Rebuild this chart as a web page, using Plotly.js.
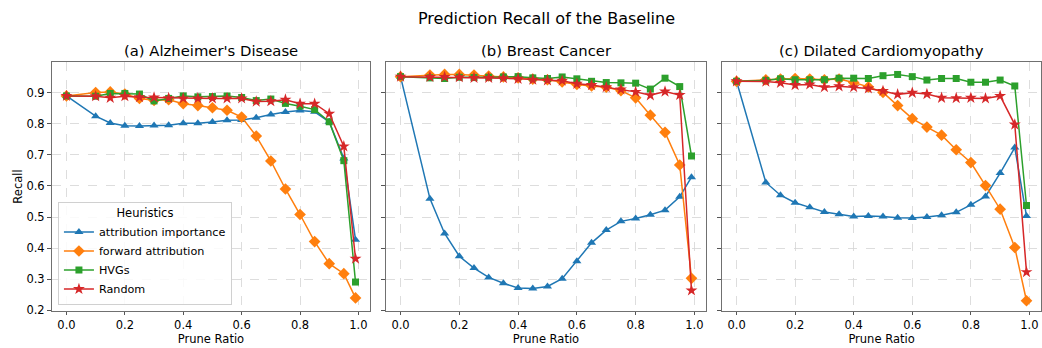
<!DOCTYPE html>
<html>
<head>
<meta charset="utf-8">
<script src="https://cdn.plot.ly/plotly-3.0.1.min.js"></script>
<style>html,body{margin:0;padding:0;background:#fff}#chart{width:1042px;height:348px}</style>
</head>
<body>
<div id="chart"></div>
<script>
const pruneRatio = [0, 0.1, 0.15, 0.2, 0.25, 0.3, 0.35, 0.4, 0.45, 0.5, 0.55, 0.6, 0.65, 0.7, 0.75, 0.8, 0.85, 0.9, 0.95, 0.99];
const seriesNames = ["attribution importance", "forward attribution", "HVGs", "Random"];
const panelTitles = ["(a) Alzheimer's Disease", "(b) Breast Cancer", "(c) Dilated Cardiomyopathy"];

// (a) Alzheimer's Disease
const adAttribution = [0.889, 0.824, 0.802, 0.793, 0.792, 0.794, 0.795, 0.801, 0.801, 0.805, 0.811, 0.812, 0.819, 0.829, 0.837, 0.842, 0.838, 0.806, 0.688, 0.427];
const adForward = [0.889, 0.900, 0.902, 0.895, 0.881, 0.875, 0.877, 0.864, 0.858, 0.851, 0.843, 0.821, 0.760, 0.680, 0.590, 0.508, 0.421, 0.350, 0.318, 0.240];
const adHVGs = [0.889, 0.888, 0.897, 0.897, 0.895, 0.873, 0.881, 0.889, 0.886, 0.887, 0.889, 0.884, 0.874, 0.879, 0.865, 0.856, 0.845, 0.806, 0.681, 0.291];
const adRandom = [0.889, 0.888, 0.883, 0.888, 0.885, 0.884, 0.882, 0.881, 0.881, 0.881, 0.881, 0.881, 0.871, 0.872, 0.877, 0.864, 0.864, 0.832, 0.727, 0.366];

// (b) Breast Cancer
const bcAttribution = [0.951, 0.559, 0.447, 0.374, 0.336, 0.306, 0.287, 0.272, 0.270, 0.277, 0.302, 0.358, 0.417, 0.458, 0.486, 0.495, 0.507, 0.522, 0.565, 0.628];
const bcForward = [0.951, 0.956, 0.958, 0.958, 0.956, 0.953, 0.950, 0.947, 0.943, 0.941, 0.934, 0.926, 0.921, 0.917, 0.906, 0.883, 0.827, 0.772, 0.667, 0.303];
const bcHVGs = [0.951, 0.947, 0.945, 0.949, 0.948, 0.949, 0.950, 0.951, 0.947, 0.945, 0.950, 0.944, 0.936, 0.932, 0.931, 0.930, 0.911, 0.946, 0.919, 0.696];
const bcRandom = [0.951, 0.950, 0.950, 0.949, 0.947, 0.947, 0.946, 0.944, 0.941, 0.939, 0.938, 0.928, 0.924, 0.917, 0.910, 0.902, 0.891, 0.903, 0.892, 0.264];

// (c) Dilated Cardiomyopathy
const dcmAttribution = [0.936, 0.611, 0.570, 0.546, 0.531, 0.516, 0.509, 0.502, 0.503, 0.502, 0.498, 0.497, 0.500, 0.506, 0.515, 0.539, 0.566, 0.641, 0.723, 0.503];
const dcmForward = [0.936, 0.941, 0.943, 0.945, 0.943, 0.941, 0.943, 0.932, 0.918, 0.900, 0.858, 0.816, 0.789, 0.763, 0.716, 0.675, 0.601, 0.525, 0.402, 0.231];
const dcmHVGs = [0.936, 0.939, 0.944, 0.941, 0.941, 0.941, 0.946, 0.946, 0.945, 0.954, 0.958, 0.951, 0.940, 0.945, 0.945, 0.933, 0.933, 0.940, 0.921, 0.537];
const dcmRandom = [0.936, 0.935, 0.931, 0.924, 0.926, 0.917, 0.920, 0.917, 0.913, 0.905, 0.894, 0.899, 0.895, 0.883, 0.882, 0.883, 0.881, 0.889, 0.797, 0.323];

const xTickVals = [0, 0.2, 0.4, 0.6, 0.8, 1.0];
const xTickText = ["0.0", "0.2", "0.4", "0.6", "0.8", "1.0"];
const yTickVals = [0.2, 0.3, 0.4, 0.5, 0.6, 0.7, 0.8, 0.9];
const yTickText = ["0.2", "0.3", "0.4", "0.5", "0.6", "0.7", "0.8", "0.9"];

const panels = [
  [adAttribution, adForward, adHVGs, adRandom],
  [bcAttribution, bcForward, bcHVGs, bcRandom],
  [dcmAttribution, dcmForward, dcmHVGs, dcmRandom]
];
const colors = ["#1f77b4", "#ff7f0e", "#2ca02c", "#d62728"];
const symbols = ["triangle-up", "diamond", "square", "star"];
const msizes = [8, 9, 7, 9];

const FONT = "DejaVu Sans, sans-serif";
const traces = [];
panels.forEach((series, p) => {
  series.forEach((vals, s) => {
    traces.push({
      x: pruneRatio, y: vals, type: "scatter", mode: "lines+markers",
      name: seriesNames[s],
      xaxis: p === 0 ? "x" : "x" + (p + 1),
      yaxis: p === 0 ? "y" : "y" + (p + 1),
      line: {color: colors[s], width: 1.5},
      marker: {color: colors[s], symbol: symbols[s], size: msizes[s], line: {width: 0}},
      showlegend: p === 0
    });
  });
});

const domains = [[0, 0.3215], [0.3377, 0.6613], [0.6775, 1]];
const layout = {
  width: 1042, height: 348,
  margin: {l: 52, r: 1, t: 62, b: 37},
  paper_bgcolor: "#fff", plot_bgcolor: "#fff",
  font: {family: FONT, size: 11.5, color: "#000"},
  title: {text: "Prediction Recall of the Baseline", font: {family: FONT, size: 16, color: "#000"},
          x: 0.5, xref: "paper", xanchor: "center", y: 1 - 18 / 348, yref: "container", yanchor: "middle"},
  showlegend: true,
  legend: {
    x: 0.006, xanchor: "left", y: 0.026, yanchor: "bottom",
    bgcolor: "rgba(255,255,255,0.85)", bordercolor: "#d0d0d0", borderwidth: 1,
    font: {family: FONT, size: 11.2, color: "#000"},
    title: {text: "Heuristics", side: "top center", font: {family: FONT, size: 11.5, color: "#000"}},
    tracegroupgap: 0, itemwidth: 30
  },
  annotations: panelTitles.map((t, i) => ({
    text: t, xref: "paper", yref: "paper",
    x: (domains[i][0] + domains[i][1]) / 2, y: 1, xanchor: "center", yanchor: "bottom",
    yshift: 1, showarrow: false, font: {family: FONT, size: 14.8, color: "#000"}
  }))
};
for (let p = 0; p < 3; p++) {
  const xs = p === 0 ? "xaxis" : "xaxis" + (p + 1);
  const ys = p === 0 ? "yaxis" : "yaxis" + (p + 1);
  layout[xs] = {
    domain: domains[p], range: [-0.0495, 1.0395], anchor: p === 0 ? "y" : "y" + (p + 1),
    tickvals: xTickVals, ticktext: xTickText, ticks: "outside", ticklen: 3, tickcolor: "#555",
    showline: true, mirror: true, linecolor: "#707070", linewidth: 1,
    showgrid: true, gridcolor: "#d4d4d4", griddash: "dash", gridwidth: 0.8, zeroline: false,
    tickfont: {family: FONT, size: 11.5, color: "#000"},
    title: {text: "Prune Ratio", font: {family: FONT, size: 11.5, color: "#000"}, standoff: 3}
  };
  layout[ys] = {
    domain: [0, 1], range: [0.198, 0.998], anchor: p === 0 ? "x" : "x" + (p + 1),
    tickvals: yTickVals, ticktext: yTickText, showticklabels: p === 0,
    ticks: "outside", ticklen: 4, tickcolor: "#555",
    showline: true, mirror: true, linecolor: "#707070", linewidth: 1,
    showgrid: true, gridcolor: "#d4d4d4", griddash: "dash", gridwidth: 0.8, zeroline: false,
    tickfont: {family: FONT, size: 11.5, color: "#000"},
    title: p === 0 ? {text: "Recall", font: {family: FONT, size: 11.5, color: "#000"}, standoff: 1} : {text: ""}
  };
}
Plotly.newPlot("chart", traces, layout, {staticPlot: true, displayModeBar: false});
</script>
</body>
</html>
